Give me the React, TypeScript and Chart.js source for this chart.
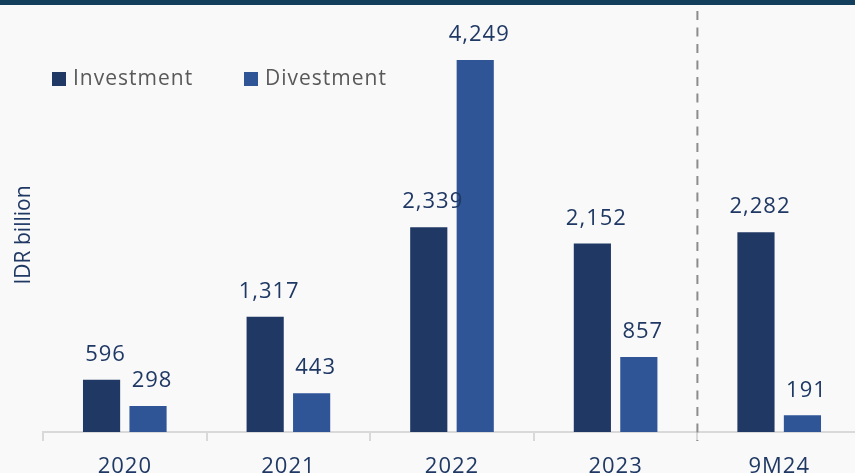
import React, { useEffect, useRef } from "react";
import { Chart, registerables } from "chart.js";

Chart.register(...registerables);

const categories = ["2020", "2021", "2022", "2023", "9M24"];
const investment = [596, 1317, 2339, 2152, 2282];
const divestment = [298, 443, 4249, 857, 191];
const seriesNames = ["Investment", "Divestment"];
const axisTitle = "IDR billion";

const NAVY = "#1f3864";
const INV = "#203864";
const DIV = "#2f5597";
const FONT = "'Open Sans', 'Noto Sans', sans-serif";

const fmt = (v: number) => v.toLocaleString("en-US");

const decorPlugin = {
  id: "decor",
  beforeLayout(chart: any) {
    chart.ctx.letterSpacing = "1px";
  },
  beforeDraw(chart: any) {
    const ctx = chart.ctx;
    ctx.save();
    ctx.fillStyle = "#f9f9f9";
    ctx.fillRect(0, 0, chart.width, chart.height);
    ctx.restore();
    ctx.letterSpacing = "1px";
  },
  afterDatasetsDraw(chart: any) {
    const ctx = chart.ctx;
    ctx.save();
    ctx.letterSpacing = "1px";
    ctx.font = `22px ${FONT}`;
    ctx.fillStyle = NAVY;
    ctx.textAlign = "center";
    ctx.textBaseline = "middle";
    chart.data.datasets.forEach((ds: any, di: number) => {
      const meta = chart.getDatasetMeta(di);
      meta.data.forEach((el: any, i: number) => {
        ctx.fillText(fmt(ds.data[i]), el.x + 4, el.y - 25);
      });
    });
    ctx.restore();
  },
  afterDraw(chart: any) {
    const ctx = chart.ctx;
    const xs = chart.scales.x;
    ctx.save();
    // dashed separator
    const xd = (xs.getPixelForValue(3) + xs.getPixelForValue(4)) / 2;
    ctx.strokeStyle = "#8c8c8c";
    ctx.lineWidth = 2;
    ctx.setLineDash([9, 7.5]);
    ctx.beginPath();
    ctx.moveTo(xd, 11);
    ctx.lineTo(xd, 441);
    ctx.stroke();
    ctx.setLineDash([]);

    // legend
    ctx.letterSpacing = "1px";
    ctx.font = `21px ${FONT}`;
    ctx.textBaseline = "middle";
    ctx.textAlign = "left";
    const items = [
      { x: 52, color: INV, label: seriesNames[0] },
      { x: 244, color: DIV, label: seriesNames[1] },
    ];
    items.forEach((it) => {
      ctx.fillStyle = it.color;
      ctx.fillRect(it.x, 72, 14, 14);
      ctx.fillStyle = "#595959";
      ctx.fillText(it.label, it.x + 21, 79);
    });

    // axis title
    ctx.letterSpacing = "0px";
    ctx.save();
    ctx.translate(24, 235);
    ctx.rotate(-Math.PI / 2);
    ctx.font = `21px ${FONT}`;
    ctx.fillStyle = NAVY;
    ctx.textAlign = "center";
    ctx.textBaseline = "middle";
    ctx.fillText(axisTitle, 0, 0);
    ctx.restore();

    // top band
    ctx.fillStyle = "#143f5c";
    ctx.fillRect(0, 0, chart.width, 5);
    ctx.restore();
  },
};

export default function App() {
  const ref = useRef<HTMLCanvasElement | null>(null);
  useEffect(() => {
    if (!ref.current) return;
    const chart = new Chart(ref.current, {
      type: "bar",
      data: {
        labels: categories,
        datasets: [
          {
            label: seriesNames[0],
            data: investment,
            backgroundColor: INV,
            categoryPercentage: 0.568,
            barPercentage: 0.8,
          },
          {
            label: seriesNames[1],
            data: divestment,
            backgroundColor: DIV,
            categoryPercentage: 0.568,
            barPercentage: 0.8,
          },
        ],
      },
      options: {
        animation: false,
        responsive: false,
        devicePixelRatio: 1,
        layout: { padding: { left: 43, right: 9, top: 0, bottom: 0 } },
        plugins: {
          legend: { display: false },
          tooltip: { enabled: false },
          title: { display: false },
        },
        scales: {
          x: {
            offset: true,
            grid: {
              offset: true,
              drawOnChartArea: false,
              color: "#d9d9d9",
              lineWidth: 2,
              tickLength: 9,
            },
            border: { color: "#d9d9d9", width: 2 },
            ticks: {
              color: NAVY,
              font: { family: FONT, size: 22 },
              padding: 13,
              maxRotation: 0,
            },
            afterFit: (s: any) => {
              s.height = 48;
            },
          },
          y: {
            display: false,
            min: 0,
            max: 4934,
          },
        },
      },
      plugins: [decorPlugin],
    } as any);
    return () => chart.destroy();
  }, []);
  return (
    <div
      style={{
        position: "fixed",
        left: 0,
        top: 0,
        width: 855,
        height: 473,
        overflow: "hidden",
        background: "#f9f9f9",
      }}
    >
      <canvas
        ref={ref}
        width={870}
        height={480}
        style={{ width: 870, height: 480, display: "block" }}
      />
    </div>
  );
}
